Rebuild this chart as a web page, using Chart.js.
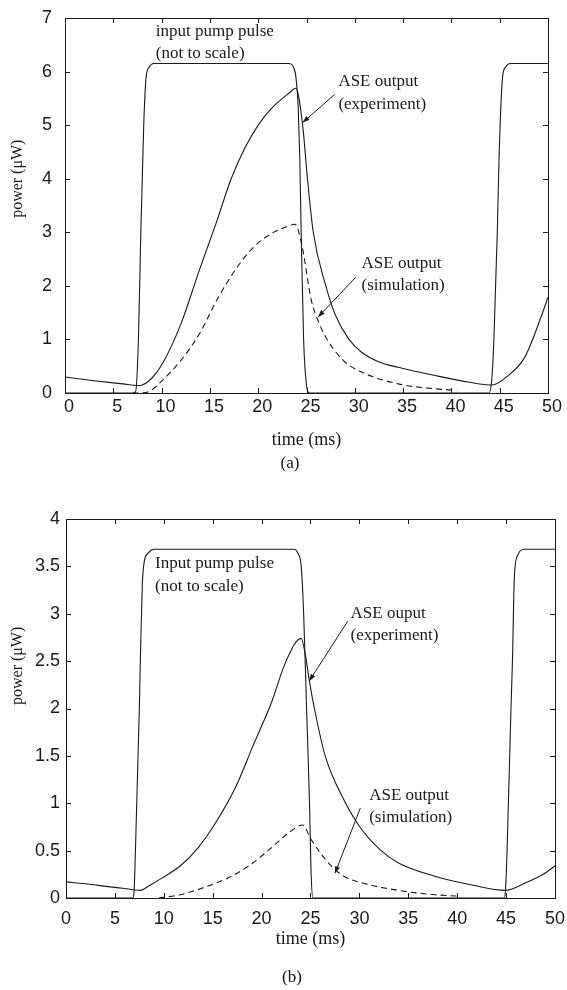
<!DOCTYPE html>
<html>
<head>
<meta charset="utf-8">
<script src="https://cdn.jsdelivr.net/npm/chart.js@4/dist/chart.umd.min.js"></script>
<style>
  html, body { margin: 0; padding: 0; background: #fff; }
  body { width: 567px; height: 990px; position: relative; overflow: hidden; }
  canvas { position: absolute; left: 0; }
  #ca { top: 0; }
  #cb { top: 470px; }
  .cap { position: absolute; font-family: "Liberation Serif", "DejaVu Serif", serif; font-size: 17px; color: #111; transform: translate(-50%, -50%); white-space: nowrap; }
</style>
</head>
<body>
<canvas id="ca" width="567" height="470"></canvas>
<canvas id="cb" width="567" height="520"></canvas>
<div class="cap" style="left:290px; top:463px;">(a)</div>
<div class="cap" style="left:292px; top:977px;">(b)</div>
<script>
// ---------- axis ticks ----------
const xTicks  = [0, 5, 10, 15, 20, 25, 30, 35, 40, 45, 50];
const yTicksA = [0, 1, 2, 3, 4, 5, 6, 7];
const yTicksB = [0, 0.5, 1, 1.5, 2, 2.5, 3, 3.5, 4];

// ---------- (a) input pump pulse ----------
const pumpA_t = [0, 7.0, 7.3, 7.6, 7.85, 8.0, 8.15, 8.4, 8.7, 9.2, 23.2, 23.6, 23.9, 24.15, 24.3, 24.45, 24.7, 25.0, 25.3, 43.9, 44.2, 44.4, 44.75, 44.95, 45.3, 45.6, 46.1, 50];
const pumpA_p = [0, 0, 0.02, 1.0, 3.0, 4.0, 5.0, 5.9, 6.08, 6.15, 6.15, 6.1, 5.9, 5.3, 4.4, 3.0, 1.0, 0.15, 0, 0, 0.3, 1.0, 3.0, 4.5, 5.9, 6.08, 6.15, 6.15];
// ---------- (a) ASE output, experiment ----------
const expA_t = [0, 3, 6, 7.5, 8.0, 9.0, 10.1, 12.0, 13.9, 15.7, 17.2, 18.7, 20.0, 21.3, 23.2, 23.9, 24.6, 25.1, 25.7, 27.0, 28.0, 29.4, 30.7, 32.5, 34.5, 38.2, 41.9, 44.2, 45.7, 47.6, 49.4, 50];
const expA_p = [0.3, 0.23, 0.17, 0.14, 0.15, 0.28, 0.55, 1.29, 2.29, 3.2, 4.0, 4.6, 5.0, 5.3, 5.6, 5.69, 5.0, 4.0, 3.0, 2.0, 1.45, 1.0, 0.76, 0.58, 0.48, 0.33, 0.2, 0.15, 0.3, 0.67, 1.48, 1.79];
// ---------- (a) ASE output, simulation ----------
const simA_t = [7.0, 7.6, 8.6, 10.1, 12.0, 13.9, 15.7, 17.6, 19.5, 21.3, 23.2, 23.8, 24.5, 25.5, 26.2, 27.0, 28.8, 30.7, 34.5, 38.2, 40.5];
const simA_p = [0, 0, 0.02, 0.24, 0.61, 1.1, 1.73, 2.29, 2.72, 2.97, 3.12, 3.15, 2.78, 1.73, 1.35, 1.04, 0.61, 0.39, 0.17, 0.08, 0.05];

// ---------- (b) input pump pulse ----------
const pumpB_t = [0, 6.8, 6.95, 7.1, 7.5, 7.6, 7.8, 8.0, 8.4, 9.0, 23.3, 23.7, 24.05, 24.3, 24.6, 24.9, 25.05, 25.25, 44.8, 44.95, 45.1, 45.5, 45.65, 45.85, 46.2, 46.8, 50];
const pumpB_p = [0, 0, 0.05, 0.5, 2.0, 2.5, 3.3, 3.55, 3.64, 3.68, 3.68, 3.64, 3.5, 3.0, 2.0, 1.0, 0.3, 0, 0, 0.1, 0.5, 2.0, 2.5, 3.4, 3.62, 3.68, 3.68];
// ---------- (b) ASE output, experiment ----------
const expB_t = [0, 2, 4.3, 6, 7.6, 8.5, 9.8, 11.7, 13.5, 15.4, 17.3, 19.1, 21.0, 22.5, 24.05, 24.5, 24.87, 25.4, 26.5, 28.4, 30.25, 32.1, 34.0, 37.7, 41.4, 44.9, 47, 48.8, 50];
const expB_p = [0.17, 0.15, 0.12, 0.1, 0.08, 0.13, 0.21, 0.34, 0.53, 0.81, 1.16, 1.6, 2.06, 2.5, 2.74, 2.55, 2.3, 2.0, 1.5, 1.04, 0.72, 0.51, 0.37, 0.23, 0.14, 0.08, 0.16, 0.25, 0.34];
// ---------- (b) ASE output, simulation ----------
const simB_t = [9.5, 11.7, 13.5, 15.4, 17.3, 19.1, 21.0, 22.8, 24.2, 25.05, 26.5, 27.5, 28.4, 30.25, 34.0, 37.7, 40.1];
const simB_p = [0.0, 0.035, 0.09, 0.16, 0.25, 0.37, 0.53, 0.69, 0.77, 0.62, 0.41, 0.3, 0.23, 0.16, 0.08, 0.035, 0.02];

// ---------- annotations (data coordinates) ----------
const notesA = [
  { lines: ["input pump pulse", "(not to scale)"], x: 9.4, y: [6.74, 6.34] },
  { lines: ["ASE output", "(experiment)"], x: 28.3, y: [5.82, 5.39] },
  { lines: ["ASE output", "(simulation)"], x: 30.7, y: [2.41, 2.0] }
];
const arrowsA = [
  { from: [27.9, 5.57], to: [24.6, 5.05] },
  { from: [30.1, 2.16], to: [26.2, 1.42] }
];
const notesB = [
  { lines: ["Input pump pulse", "(not to scale)"], x: 9.1, y: [3.53, 3.29] },
  { lines: ["ASE ouput", "(experiment)"], x: 29.1, y: [3.0, 2.77] },
  { lines: ["ASE output", "(simulation)"], x: 31.0, y: [1.08, 0.85] }
];
const arrowsB = [
  { from: [28.8, 2.92], to: [24.87, 2.29] },
  { from: [30.1, 0.95], to: [27.5, 0.26] }
];

const SANS = '"Liberation Sans", Arial, sans-serif';
const SERIF = '"Liberation Serif", "Times New Roman", serif';
const INK = '#1a1a1a';

function pts(t, v) { return t.map((x, i) => ({ x: x, y: v[i] })); }

const framePlugin = {
  id: 'frame',
  afterDraw(chart) {
    const o = chart.options.plugins.frame;
    const ctx = chart.ctx, a = chart.chartArea;
    const xs = chart.scales.x, ys = chart.scales.y;
    ctx.save();
    ctx.strokeStyle = INK;
    ctx.lineWidth = 1;
    ctx.strokeRect(Math.round(a.left) + 0.5, Math.round(a.top) + 0.5,
                   Math.round(a.right - a.left), Math.round(a.bottom - a.top));
    ctx.beginPath();
    o.xTicks.forEach(v => {
      const px = Math.round(xs.getPixelForValue(v)) + 0.5;
      ctx.moveTo(px, a.bottom); ctx.lineTo(px, a.bottom - 5);
      ctx.moveTo(px, a.top); ctx.lineTo(px, a.top + 5);
    });
    o.yTicks.forEach(v => {
      const py = Math.round(ys.getPixelForValue(v)) + 0.5;
      ctx.moveTo(a.left, py); ctx.lineTo(a.left + 5, py);
      ctx.moveTo(a.right, py); ctx.lineTo(a.right - 5, py);
    });
    ctx.stroke();

    // axis titles
    ctx.fillStyle = INK;
    ctx.font = '18px ' + SERIF;
    ctx.textAlign = 'center';
    ctx.textBaseline = 'middle';
    ctx.fillText('time (ms)', (a.left + a.right) / 2, a.bottom + o.xTitleGap);
    ctx.save();
    ctx.font = '16px ' + SERIF;
    ctx.translate(o.yTitleX, ys.getPixelForValue(o.yTitleAt));
    ctx.rotate(-Math.PI / 2);
    ctx.fillText('power (\u03bcW)', 0, 0);
    ctx.restore();

    // annotations
    ctx.font = '17px ' + SERIF;
    ctx.textAlign = 'left';
    o.notes.forEach(n => {
      n.lines.forEach((s, i) => {
        ctx.fillText(s, xs.getPixelForValue(n.x), ys.getPixelForValue(n.y[i]));
      });
    });
    o.arrows.forEach(ar => {
      const x1 = xs.getPixelForValue(ar.from[0]), y1 = ys.getPixelForValue(ar.from[1]);
      const x2 = xs.getPixelForValue(ar.to[0]), y2 = ys.getPixelForValue(ar.to[1]);
      const ang = Math.atan2(y2 - y1, x2 - x1);
      ctx.beginPath();
      ctx.moveTo(x1, y1); ctx.lineTo(x2, y2);
      ctx.stroke();
      const L = 7, W = 2.6;
      ctx.beginPath();
      ctx.moveTo(x2, y2);
      ctx.lineTo(x2 - L * Math.cos(ang) + W * Math.sin(ang), y2 - L * Math.sin(ang) - W * Math.cos(ang));
      ctx.lineTo(x2 - L * Math.cos(ang) - W * Math.sin(ang), y2 - L * Math.sin(ang) + W * Math.cos(ang));
      ctx.closePath();
      ctx.fill();
    });
    ctx.restore();
  }
};

function makeChart(id, cfg) {
  const canvas = document.getElementById(id);
  const H = canvas.height;
  return new Chart(canvas, {
    type: 'line',
    data: {
      datasets: [
        { label: 'pump', data: pts(cfg.pump[0], cfg.pump[1]), borderColor: INK, borderWidth: 1.1 },
        { label: 'experiment', data: pts(cfg.exp[0], cfg.exp[1]), borderColor: INK, borderWidth: 1.1 },
        { label: 'simulation', data: pts(cfg.sim[0], cfg.sim[1]), borderColor: INK, borderWidth: 1.1, borderDash: [6, 4] }
      ]
    },
    options: {
      responsive: false,
      animation: false,
      devicePixelRatio: 1,
      elements: { point: { radius: 0 }, line: { cubicInterpolationMode: 'monotone', fill: false } },
      layout: { padding: { top: cfg.top, right: cfg.right, left: 0, bottom: 0 } },
      plugins: {
        legend: { display: false },
        tooltip: { enabled: false },
        frame: {
          xTicks: xTicks, yTicks: cfg.yTicks, notes: cfg.notes, arrows: cfg.arrows,
          xTitleGap: cfg.xTitleGap, yTitleX: cfg.yTitleX, yTitleAt: cfg.yTitleAt
        }
      },
      scales: {
        x: {
          type: 'linear', min: 0, max: 50,
          grid: { display: false }, border: { display: false },
          afterBuildTicks: s => { s.ticks = xTicks.map(v => ({ value: v })); },
          ticks: { font: { family: SANS, size: 18 }, color: INK, padding: cfg.xPad, labelOffset: cfg.xOff,
                   maxRotation: 0, autoSkip: false, callback: v => String(v) },
          afterFit: s => { s.height = H - cfg.bottom; }
        },
        y: {
          type: 'linear', min: cfg.yTicks[0], max: cfg.yTicks[cfg.yTicks.length - 1],
          grid: { display: false }, border: { display: false },
          afterBuildTicks: s => { s.ticks = cfg.yTicks.map(v => ({ value: v })); },
          ticks: { font: { family: SANS, size: 18 }, color: INK, padding: cfg.yPad, autoSkip: false, callback: v => String(v) },
          afterFit: s => { s.width = cfg.left; }
        }
      }
    },
    plugins: [framePlugin]
  });
}

makeChart('ca', {
  pump: [pumpA_t, pumpA_p], exp: [expA_t, expA_p], sim: [simA_t, simA_p],
  yTicks: yTicksA, notes: notesA, arrows: arrowsA,
  left: 65, right: 567 - 548, top: 18, bottom: 393,
  xPad: -5, xOff: 4, yPad: 5,
  xTitleGap: 47, yTitleX: 18, yTitleAt: 4.0
});
makeChart('cb', {
  pump: [pumpB_t, pumpB_p], exp: [expB_t, expB_p], sim: [simB_t, simB_p],
  yTicks: yTicksB, notes: notesB, arrows: arrowsB,
  left: 66, right: 567 - 555, top: 49, bottom: 428,
  xPad: 2, xOff: 0, yPad: -2,
  xTitleGap: 41, yTitleX: 18, yTitleAt: 2.45
});
</script>
</body>
</html>
